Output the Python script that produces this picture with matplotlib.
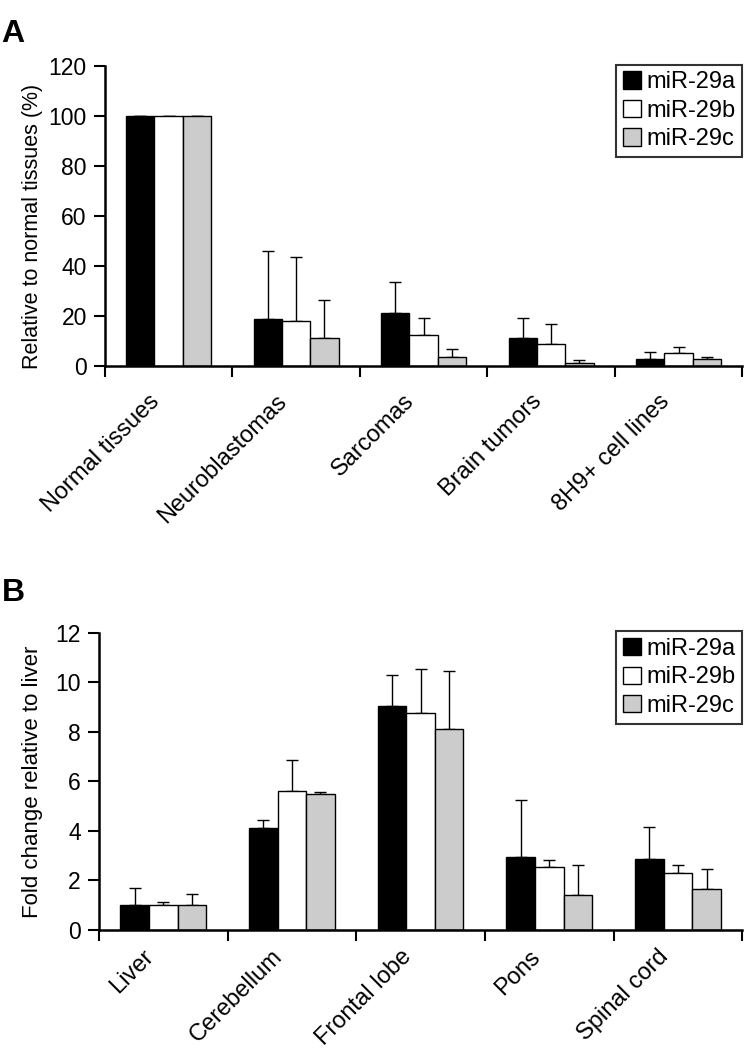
import numpy as np
import matplotlib
matplotlib.use("Agg")
import matplotlib.pyplot as plt
from matplotlib.transforms import ScaledTranslation

plt.rcParams['font.family'] = ['Liberation Sans', 'DejaVu Sans']

series = ["miR-29a", "miR-29b", "miR-29c"]
colors = ["black", "white", "#cccccc"]

# panel A
cats_a = ["Normal tissues", "Neuroblastomas", "Sarcomas", "Brain tumors", "8H9+ cell lines"]
a_29a = [100, 18.7, 21.1, 11.3, 2.8]
a_29b = [100, 17.9, 12.3, 8.7, 5.1]
a_29c = [100, 11.2, 3.5, 1.3, 2.7]
a_29a_top = [100, 46.0, 33.6, 19.3, 5.5]   # top of error bar
a_29b_top = [100, 43.7, 19.3, 16.8, 7.5]
a_29c_top = [100, 26.3, 6.9, 2.3, 3.5]

# panel B
cats_b = ["Liver", "Cerebellum", "Frontal lobe", "Pons", "Spinal cord"]
b_29a = [1.0, 4.13, 9.05, 2.95, 2.87]
b_29b = [1.0, 5.6, 8.76, 2.54, 2.29]
b_29c = [1.0, 5.5, 8.12, 1.40, 1.64]
b_29a_top = [1.71, 4.44, 10.3, 5.25, 4.17]
b_29b_top = [1.14, 6.86, 10.52, 2.83, 2.64]
b_29c_top = [1.44, 5.58, 10.47, 2.64, 2.46]


def draw_panel(fig, ax, cats, vals, tops, ymax, ystep, ylabel, ylab_size, ylab_pos, lab_shift):
    x = np.arange(len(cats))
    w = 2.0 / 9
    for i, (v, t) in enumerate(zip(vals, tops)):
        pos = x + (i - 1) * w
        v = np.array(v)
        t = np.array(t)
        ax.bar(pos, v, width=w, color=colors[i], edgecolor="black",
               linewidth=1.0, label=series[i], zorder=2)
        err = t - v
        ax.errorbar(pos, v, yerr=[np.zeros_like(err), err], fmt="none",
                    ecolor="black", elinewidth=1.0, capsize=4.5, capthick=1.0, zorder=1)
    ax.set_xlim(-0.5, len(cats) - 0.5)
    ax.set_ylim(0, ymax)
    ax.set_yticks(np.arange(0, ymax + ystep / 2, ystep))
    ax.set_xticks(np.arange(-0.5, len(cats), 1.0))
    ax.set_xticklabels([])
    ax.set_xticks(x, minor=True)
    ax.set_xticklabels(cats, minor=True, rotation=45, ha="right", va="center",
                       rotation_mode="anchor", fontsize=17)
    ax.tick_params(axis="x", which="minor", length=0, pad=22)
    ax.tick_params(axis="x", which="major", direction="out", length=8, width=1.5)
    ax.tick_params(axis="y", direction="out", length=8, width=1.5, labelsize=16.5, pad=5)
    # nudge the rotated labels a bit to the left, like the original
    shift = ScaledTranslation(lab_shift[0] / 72, lab_shift[1] / 72, fig.dpi_scale_trans)
    for lab in ax.get_xticklabels(minor=True):
        lab.set_transform(lab.get_transform() + shift)
    for s in ["top", "right"]:
        ax.spines[s].set_visible(False)
    for s in ["left", "bottom"]:
        ax.spines[s].set_linewidth(1.8)
    ax.set_ylabel(ylabel, fontsize=ylab_size)
    ax.yaxis.set_label_coords(*ylab_pos)
    leg = ax.legend(loc="upper right", bbox_to_anchor=(1.0, 1.005), borderaxespad=0,
                    fontsize=17, frameon=True, fancybox=False, edgecolor="black",
                    handlelength=0.75, handleheight=0.75, handletextpad=0.25,
                    labelspacing=0.28, borderpad=0.28)
    leg.get_frame().set_linewidth(1.5)


fig = plt.figure(figsize=(7.49, 10.5), dpi=100)

ax1 = fig.add_axes([0.140, 0.6514, 0.851, 0.2857])
draw_panel(fig, ax1, cats_a, [a_29a, a_29b, a_29c], [a_29a_top, a_29b_top, a_29c_top],
           120, 20, "Relative to normal tissues (%)", 15.5, (-0.097, 0.465), (-9, -1))

ax2 = fig.add_axes([0.132, 0.1143, 0.859, 0.2831])
draw_panel(fig, ax2, cats_b, [b_29a, b_29b, b_29c], [b_29a_top, b_29b_top, b_29c_top],
           12, 2, "Fold change relative to liver", 16, (-0.087, 0.5), (-9, 5))

fig.text(0.002, 0.968, "A", fontsize=23, fontweight="bold", va="center")
fig.text(0.002, 0.435, "B", fontsize=23, fontweight="bold", va="center")

fig.savefig("out.png", dpi=100)
